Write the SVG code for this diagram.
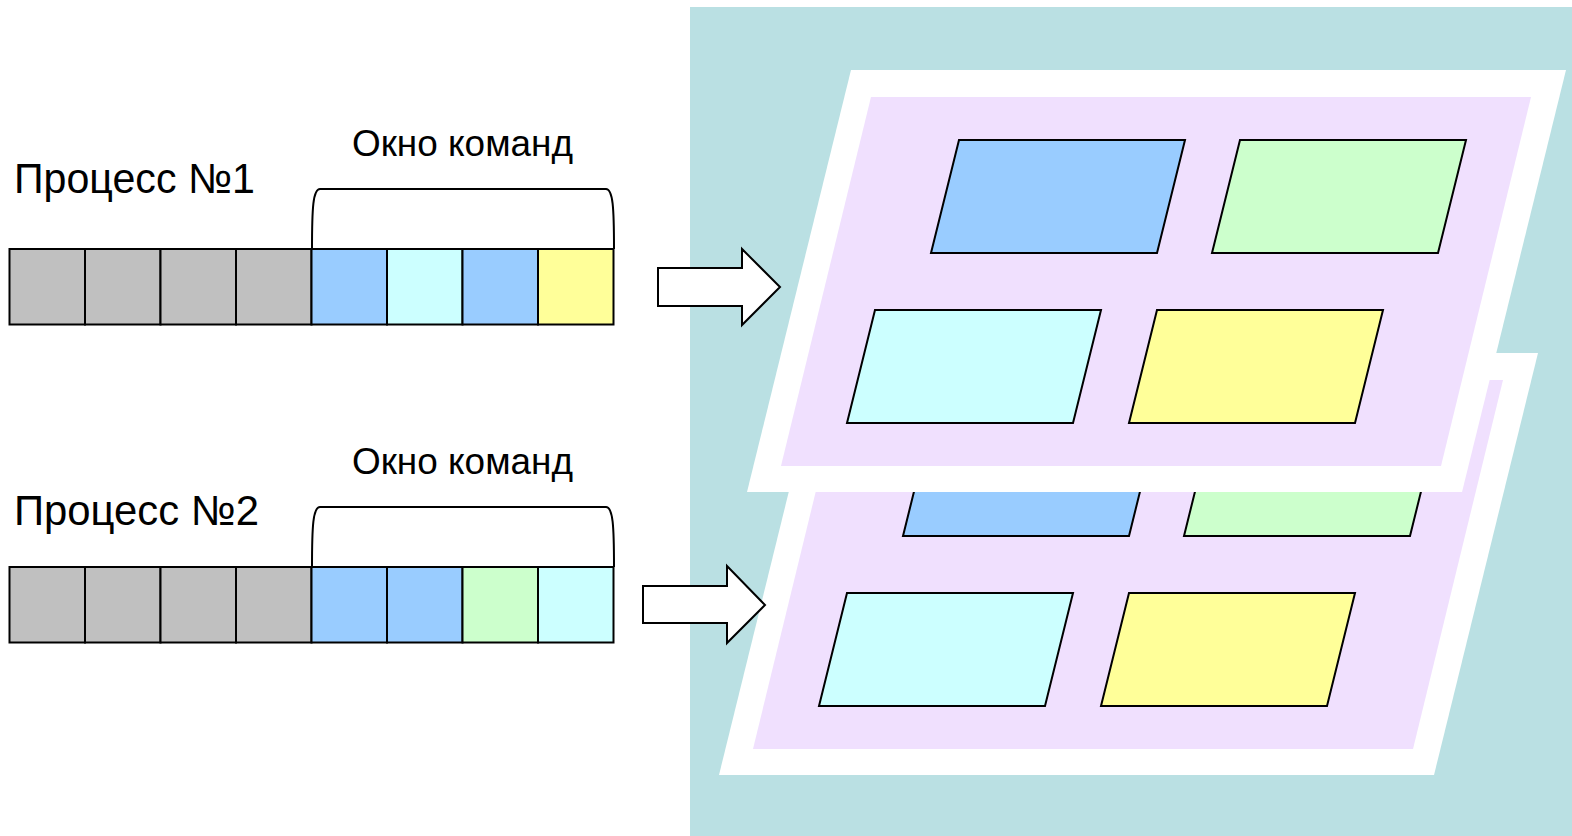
<svg xmlns="http://www.w3.org/2000/svg" width="1572" height="836" viewBox="0 0 1572 836">
  <style>
    .cell { stroke: #000; stroke-width: 2; }
    .gray { fill: #C0C0C0; }
    .blue { fill: #99CCFF; }
    .cyan { fill: #CCFFFF; }
    .green { fill: #CCFFCC; }
    .yellow { fill: #FFFF99; }
    .para { stroke: #000; stroke-width: 2; stroke-linejoin: miter; }
    .frame { fill: #FFFFFF; }
    .sheet { fill: #F0E0FE; }
    .brace { fill: none; stroke: #000; stroke-width: 2; }
    .arrow { fill: #FFFFFF; stroke: #000; stroke-width: 2; }
    .title { font-family: "Liberation Sans", Arial, sans-serif; font-size: 42px; fill: #000; }
    .label { font-family: "Liberation Sans", Arial, sans-serif; font-size: 36px; fill: #000; }
  </style>
  <defs>
    <!-- one memory page: white frame, lilac sheet and four command blocks -->
    <g id="page">
      <polygon class="frame" points="851,70 1566,70 1462,492 747,492"/>
      <polygon class="sheet" points="871,97 1531,97 1441,466 781,466"/>
      <polygon class="para blue" points="959,140 1185,140 1157,253 931,253"/>
      <polygon class="para green" points="1240,140 1466,140 1438,253 1212,253"/>
      <polygon class="para cyan" points="875,310 1101,310 1073,423 847,423"/>
      <polygon class="para yellow" points="1157,310 1383,310 1355,423 1129,423"/>
    </g>
    <!-- eight-cell command queue with window brace -->
    <g id="queue-base">
      <rect class="cell gray" x="9.5" y="249" width="75.5" height="75.5"/>
      <rect class="cell gray" x="85" y="249" width="75.5" height="75.5"/>
      <rect class="cell gray" x="160.5" y="249" width="75.5" height="75.5"/>
      <rect class="cell gray" x="236" y="249" width="75.5" height="75.5"/>
      <path class="brace" d="M312,249 C312,208 313,189 320,189 L606,189 C613,189 614,208 614,249"/>
    </g>
  </defs>

  <!-- shared memory area -->
  <rect x="690" y="7" width="882" height="829" fill="#BAE0E3"/>

  <g id="page-2">
    <use href="#page" transform="translate(-28,283)"/>
  </g>
  <g id="page-1">
    <use href="#page"/>
  </g>

  <g id="process-1">
    <text class="title" x="14" y="193" textLength="241" lengthAdjust="spacingAndGlyphs">Процесс №1</text>
    <text class="label" x="352" y="156" textLength="221" lengthAdjust="spacingAndGlyphs">Окно команд</text>
    <use href="#queue-base"/>
    <rect class="cell blue" x="311.5" y="249" width="75.5" height="75.5"/>
    <rect class="cell cyan" x="387" y="249" width="75.5" height="75.5"/>
    <rect class="cell blue" x="462.5" y="249" width="75.5" height="75.5"/>
    <rect class="cell yellow" x="538" y="249" width="75.5" height="75.5"/>
  </g>

  <g id="process-2">
    <text class="title" x="14" y="525" textLength="245" lengthAdjust="spacingAndGlyphs">Процесс №2</text>
    <text class="label" x="352" y="474" textLength="221" lengthAdjust="spacingAndGlyphs">Окно команд</text>
    <use href="#queue-base" transform="translate(0,318)"/>
    <rect class="cell blue" x="311.5" y="567" width="75.5" height="75.5"/>
    <rect class="cell blue" x="387" y="567" width="75.5" height="75.5"/>
    <rect class="cell green" x="462.5" y="567" width="75.5" height="75.5"/>
    <rect class="cell cyan" x="538" y="567" width="75.5" height="75.5"/>
  </g>

  <g id="connectors">
    <polygon class="arrow" points="658,268 742,268 742,249 780,287 742,325 742,306 658,306"/>
    <polygon class="arrow" points="643,586 727,586 727,566 765,605 727,643 727,623 643,623"/>
  </g>
</svg>
